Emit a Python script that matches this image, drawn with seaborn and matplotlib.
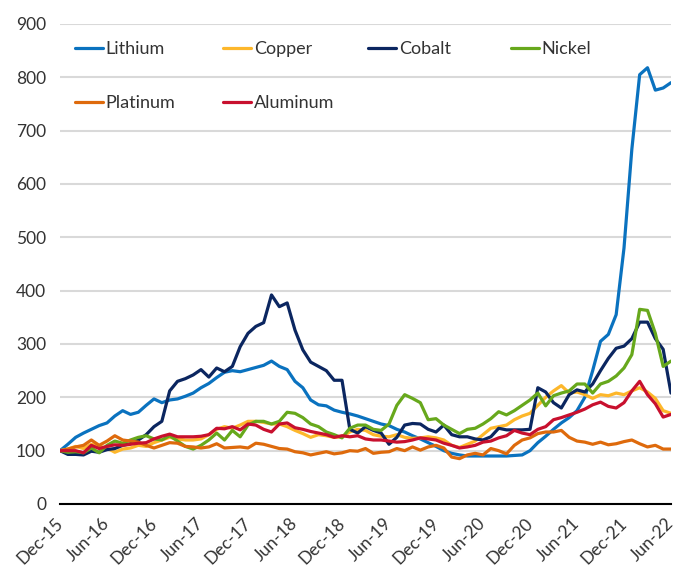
import numpy as np
import pandas as pd
import matplotlib
matplotlib.use("Agg")
import matplotlib.pyplot as plt
import seaborn as sns

# Monthly index values, Dec-15 .. Jun-22 (79 months)
months = pd.date_range("2015-12-01", "2022-06-01", freq="MS")
tick_labels = ["Dec-15", "Jun-16", "Dec-16", "Jun-17", "Dec-17", "Jun-18", "Dec-18",
               "Jun-19", "Dec-19", "Jun-20", "Dec-20", "Jun-21", "Dec-21", "Jun-22"]

lithium = [100, 112, 125, 133, 140, 147, 152, 165, 175, 168, 172, 185, 197, 190, 195, 197,
           202, 208, 218, 226, 237, 247, 250, 248, 252, 256, 260, 268, 258, 252, 230, 218,
           195, 186, 184, 176, 172, 169, 165, 160, 155, 150, 147, 140, 135, 128, 122, 115,
           108, 100, 95, 92, 90, 90, 90, 90, 90, 90, 91, 92, 100, 115, 127, 140, 152, 162,
           175, 200, 250, 305, 318, 355, 480, 665, 805, 818, 776, 780, 790]
copper = [100, 103, 108, 104, 112, 108, 105, 97, 103, 105, 110, 108, 115, 120, 125, 122,
          120, 120, 122, 130, 140, 145, 142, 148, 155, 155, 153, 150, 150, 145, 138, 132,
          125, 130, 128, 125, 126, 135, 140, 138, 130, 127, 126, 130, 125, 123, 124, 126,
          124, 120, 110, 106, 112, 118, 130, 142, 145, 148, 158, 165, 170, 185, 200, 212,
          222, 208, 210, 205, 198, 205, 203, 208, 205, 212, 218, 210, 198, 175, 170]
cobalt = [100, 93, 93, 92, 99, 97, 102, 104, 110, 113, 120, 130, 145, 155, 212, 230,
          235, 242, 252, 238, 255, 248, 258, 295, 320, 333, 340, 392, 370, 377, 326, 289,
          266, 258, 250, 232, 232, 140, 133, 145, 138, 133, 112, 125, 148, 151, 150, 140,
          135, 148, 130, 126, 126, 122, 120, 126, 142, 139, 139, 139, 140, 218, 210, 190,
          180, 205, 214, 210, 225, 250, 273, 292, 296, 310, 341, 341, 310, 290, 208]
nickel = [100, 97, 98, 96, 105, 96, 110, 118, 114, 120, 125, 128, 122, 120, 128, 118,
          108, 103, 110, 120, 133, 120, 138, 126, 148, 155, 155, 150, 155, 172, 170, 162,
          150, 145, 135, 130, 124, 142, 148, 148, 140, 138, 150, 185, 205, 198, 190, 158,
          160, 148, 140, 132, 140, 142, 150, 160, 173, 167, 175, 185, 195, 208, 184, 203,
          208, 212, 225, 225, 208, 225, 230, 240, 255, 280, 365, 363, 320, 258, 268]
platinum = [100, 103, 107, 110, 120, 110, 118, 128, 120, 118, 116, 110, 105, 110, 115, 114,
            108, 107, 105, 107, 113, 105, 106, 107, 105, 114, 112, 108, 104, 103, 98, 96,
            92, 95, 98, 94, 96, 100, 99, 104, 95, 97, 98, 104, 100, 107, 101, 107,
            110, 105, 88, 85, 92, 95, 92, 104, 100, 94, 110, 120, 124, 132, 135, 135,
            138, 125, 118, 116, 112, 116, 111, 113, 117, 120, 113, 107, 110, 103, 103]
aluminum = [100, 100, 100, 96, 110, 104, 108, 111, 110, 112, 114, 115, 122, 127, 131, 126,
            126, 126, 127, 130, 142, 141, 145, 139, 150, 148, 140, 135, 150, 152, 143, 140,
            136, 133, 130, 125, 128, 126, 128, 122, 120, 120, 118, 116, 117, 120, 124, 122,
            120, 114, 110, 105, 107, 110, 116, 118, 124, 128, 138, 133, 130, 140, 145, 158,
            162, 167, 172, 178, 186, 191, 183, 180, 190, 212, 230, 205, 188, 163, 168]

series_names = ["Lithium", "Copper", "Cobalt", "Nickel", "Platinum", "Aluminum"]
series_values = [lithium, copper, cobalt, nickel, platinum, aluminum]
colors = ["#0a72bf", "#fdb72b", "#0b2660", "#67a81c", "#de6a0c", "#c8102e"]

frames = []
for name, vals in zip(series_names, series_values):
    frames.append(pd.DataFrame({"idx": np.arange(len(months)), "value": vals, "metal": name}))
df = pd.concat(frames, ignore_index=True)

sns.set_theme(style="white")
plt.rcParams["font.family"] = ["Lato", "DejaVu Sans"]

W, H = 677, 578
fig = plt.figure(figsize=(W / 100, H / 100), dpi=100)
left_px, right_px, top_px, bottom_px = 60, 671, 24, 504
ax = fig.add_axes([left_px / W, 1 - bottom_px / H, (right_px - left_px) / W,
                   (bottom_px - top_px) / H])

sns.lineplot(data=df, x="idx", y="value", hue="metal", hue_order=series_names,
             palette=colors, linewidth=2.3, ax=ax, legend=True)

ax.set_ylim(0, 900)
ax.set_xlim(0, len(months) - 1)
ax.set_yticks(np.arange(0, 901, 100))
ax.yaxis.grid(True, color="#d9d9d9", linewidth=1.5)
ax.set_axisbelow(True)
ax.set_xticks(np.arange(0, len(months), 6))
ax.set_xticklabels(tick_labels, rotation=45, ha="right", va="center",
                   rotation_mode="anchor")
ax.tick_params(axis="both", length=0, labelsize=12.5, colors="#333333")
ax.tick_params(axis="y", pad=10)
ax.tick_params(axis="x", pad=12)
ax.set_xlabel("")
ax.set_ylabel("")
for s in ["top", "right", "left"]:
    ax.spines[s].set_visible(False)
ax.spines["bottom"].set_color("#000000")
ax.spines["bottom"].set_linewidth(1.5)

handles, labels = ax.get_legend_handles_labels()
hmap = dict(zip(labels, handles))
ax.get_legend().remove()

# one legend per column, placed at fixed column positions (figure pixels)
columns = [["Lithium", "Platinum"], ["Copper", "Aluminum"], ["Cobalt"], ["Nickel"]]
col_x_px = [75, 223, 368, 511]
for names, xpx in zip(columns, col_x_px):
    fig.legend([hmap[n] for n in names], names, ncol=1, frameon=False,
               loc="upper left", bbox_to_anchor=(xpx / W, 1 - 41 / H),
               fontsize=13, borderpad=0, borderaxespad=0,
               handlelength=1.55, handletextpad=0.15, labelspacing=2.1,
               labelcolor="#333333")

fig.savefig("out.png", dpi=100)
